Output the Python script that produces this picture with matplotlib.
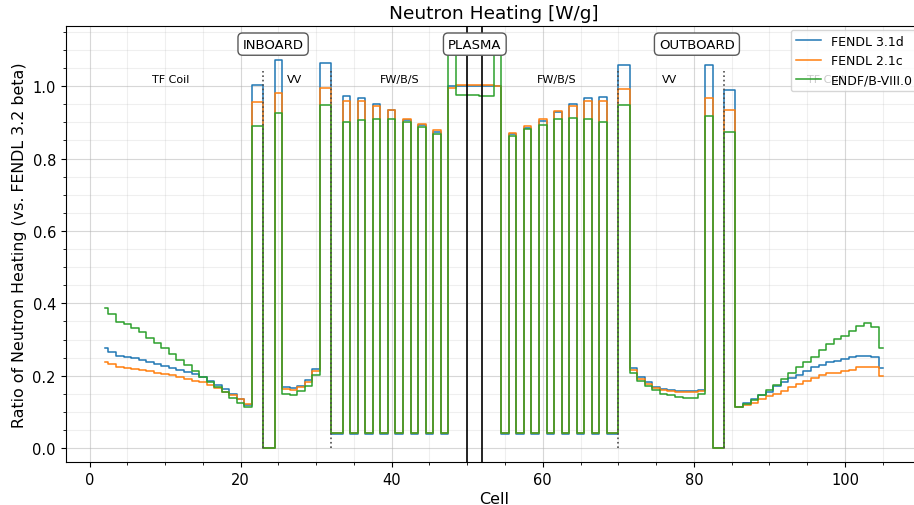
import numpy as np
import matplotlib.pyplot as plt

# cell numbers with tallies (23, 32, 70 and 84 are not tallied)
cells = [c for c in range(2, 106) if c not in (23, 32, 70, 84)]

# heating ratio vs. FENDL 3.2 beta, one value per cell in `cells`
fendl31d = [0.276, 0.267, 0.256, 0.252, 0.249, 0.244, 0.239, 0.233, 0.228, 0.222,
            0.217, 0.211, 0.205, 0.197, 0.185, 0.175, 0.163, 0.150, 0.135, 0.119,
            1.003,
            0.000, 1.072,
            0.168, 0.166, 0.172, 0.189, 0.218,
            1.064,
            0.040, 0.972, 0.040, 0.968, 0.040, 0.952, 0.040, 0.934, 0.040, 0.906,
            0.040, 0.893, 0.040, 0.872, 0.040,
            1.000, 1.000, 1.000, 1.000, 1.000, 1.000, 1.000,
            0.040, 0.867, 0.040, 0.885, 0.040, 0.904, 0.040, 0.929, 0.040, 0.950,
            0.040, 0.967, 0.040, 0.969, 0.040,
            1.059,
            0.221, 0.196, 0.182, 0.170, 0.163, 0.160, 0.158, 0.157, 0.157, 0.162,
            1.058, 0.000,
            0.989,
            0.113, 0.125, 0.136, 0.148, 0.154, 0.171, 0.182, 0.193, 0.202, 0.213,
            0.223, 0.230, 0.237, 0.241, 0.246, 0.252, 0.255, 0.255, 0.251, 0.221]

fendl21c = [0.239, 0.233, 0.225, 0.221, 0.218, 0.216, 0.212, 0.208, 0.205, 0.201,
            0.196, 0.192, 0.187, 0.182, 0.175, 0.166, 0.156, 0.146, 0.135, 0.122,
            0.955,
            0.000, 0.980,
            0.163, 0.161, 0.170, 0.184, 0.214,
            0.995,
            0.041, 0.958, 0.041, 0.958, 0.041, 0.946, 0.041, 0.934, 0.041, 0.909,
            0.041, 0.895, 0.041, 0.878, 0.041,
            0.995, 1.004, 1.004, 1.004, 1.004, 1.004, 1.000,
            0.041, 0.870, 0.041, 0.891, 0.041, 0.909, 0.041, 0.930, 0.041, 0.944,
            0.041, 0.958, 0.041, 0.958, 0.041,
            0.992,
            0.217, 0.191, 0.177, 0.166, 0.160, 0.157, 0.156, 0.154, 0.154, 0.159,
            0.966, 0.000,
            0.934,
            0.113, 0.119, 0.126, 0.136, 0.145, 0.151, 0.159, 0.168, 0.177, 0.186,
            0.194, 0.202, 0.207, 0.209, 0.212, 0.217, 0.223, 0.225, 0.223, 0.200]

endfb80 = [0.386, 0.370, 0.349, 0.343, 0.332, 0.320, 0.304, 0.290, 0.276, 0.260,
           0.244, 0.230, 0.214, 0.198, 0.184, 0.168, 0.154, 0.138, 0.126, 0.115,
           0.889,
           0.000, 0.926,
           0.151, 0.148, 0.157, 0.172, 0.203,
           0.949,
           0.041, 0.900, 0.041, 0.907, 0.041, 0.908, 0.041, 0.908, 0.041, 0.900,
           0.041, 0.886, 0.041, 0.868, 0.041,
           1.110, 0.975, 0.975, 0.975, 0.973, 0.973, 1.110,
           0.041, 0.861, 0.041, 0.882, 0.041, 0.894, 0.041, 0.908, 0.041, 0.911,
           0.041, 0.908, 0.041, 0.900, 0.041,
           0.949,
           0.207, 0.186, 0.171, 0.160, 0.151, 0.147, 0.142, 0.140, 0.140, 0.149,
           0.917, 0.000,
           0.872,
           0.113, 0.122, 0.133, 0.147, 0.160, 0.175, 0.191, 0.207, 0.223, 0.237,
           0.252, 0.272, 0.288, 0.301, 0.309, 0.324, 0.338, 0.346, 0.336, 0.278]

gap_cells = [23, 32, 70, 84]
plasma_edges = [50, 52]

region_names = ['TF Coil', 'VV', 'FW/B/S', 'FW/B/S', 'VV', 'TF Coil']
region_x = [10.7, 27.2, 41.1, 61.9, 76.8, 97.5]
side_names = ['INBOARD', 'PLASMA', 'OUTBOARD']
side_x = [24.3, 51, 80.4]

fig = plt.figure(figsize=(9.14, 5.06), dpi=100)
ax = fig.add_axes([0.0719, 0.085, 0.9365, 0.8616])

ax.step(cells, fendl31d, where='mid', lw=1.1, label='FENDL 3.1d')
ax.step(cells, fendl21c, where='mid', lw=1.1, label='FENDL 2.1c')
ax.step(cells, endfb80, where='mid', lw=1.1, label='ENDF/B-VIII.0')

ax.vlines(gap_cells, 0, 1.043, colors='0.3', linestyles=':', lw=1.2)
for x in plasma_edges:
    ax.axvline(x, color='k', lw=1.2)

for name, x in zip(region_names, region_x):
    ax.text(x, 1.02, name, ha='center', va='center', fontsize=8)
for name, x in zip(side_names, side_x):
    ax.text(x, 1.116, name, ha='center', va='center', fontsize=9.5,
            bbox=dict(boxstyle='round,pad=0.35', fc='white', ec='0.35'))

ax.set_ylim(-0.038, 1.166)
ax.minorticks_on()
ax.grid(which='major', alpha=0.5)
ax.grid(which='minor', alpha=0.2)
ax.tick_params(labelsize=10.5)
ax.set_xlabel('Cell', fontsize=11.5, labelpad=3)
ax.set_ylabel('Ratio of Neutron Heating (vs. FENDL 3.2 beta)', fontsize=11.4)
ax.set_title('Neutron Heating [W/g]', fontsize=13.3)
ax.legend(loc='upper right', fontsize=9, borderaxespad=0.3)

fig.savefig('out.png', dpi=100)
